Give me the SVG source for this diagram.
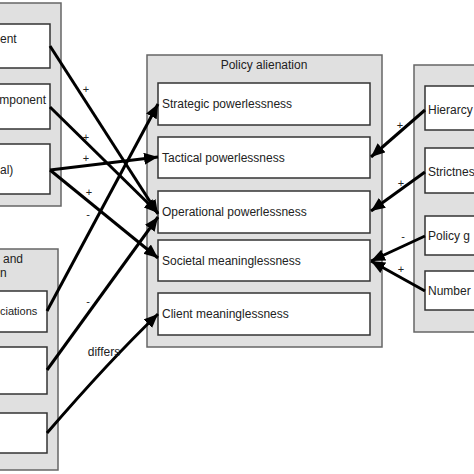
<svg xmlns="http://www.w3.org/2000/svg" width="474" height="474" viewBox="0 0 474 474">
<style>
.grp{fill:#e0e0e0;stroke:#666;stroke-width:1.5}
.box{fill:#fff;stroke:#333;stroke-width:1.5}
text{font-family:"Liberation Sans",Arial,sans-serif;font-size:12px;fill:#222}
.lbl{font-size:11px}
.c{fill:none;stroke:#000;stroke-width:3;marker-end:url(#ah)}
</style>
<defs>
<marker id="ah" markerUnits="userSpaceOnUse" markerWidth="16" markerHeight="14" refX="14" refY="6" orient="auto">
<path d="M0,0 L14,6 L0,12 Z" fill="#000"/>
</marker>
</defs>
<rect width="474" height="474" fill="#fff"/>
<g id="leftTop">
<rect class="grp" x="-5" y="3" width="66" height="203"/>
<g id="lt1"><rect class="box" x="-5" y="24" width="55" height="44"/><text x="0" y="43">ent</text></g>
<g id="lt2"><rect class="box" x="-5" y="84" width="55" height="45"/><text x="46" y="104" text-anchor="end">mponent</text></g>
<g id="lt3"><rect class="box" x="-5" y="144" width="55" height="50"/><text x="0" y="174">al)</text></g>
</g>
<g id="leftBottom">
<rect class="grp" x="-5" y="249" width="63" height="221"/>
<text x="23" y="263" text-anchor="end">and</text>
<text x="0" y="277">n</text>
<g id="lb1"><rect class="box" x="-5" y="291" width="52" height="41"/><text x="0" y="315" style="font-size:11px">ciations</text></g>
<g id="lb2"><rect class="box" x="-5" y="347" width="52" height="47"/></g>
<g id="lb3"><rect class="box" x="-5" y="413" width="52" height="40"/></g>
</g>
<g id="policyAlienation">
<rect class="grp" x="147" y="55" width="235" height="292"/>
<text x="264" y="69" text-anchor="middle">Policy alienation</text>
<g id="strategic"><rect class="box" x="158" y="83" width="212" height="42"/><text x="162" y="108">Strategic powerlessness</text></g>
<g id="tactical"><rect class="box" x="158" y="137" width="212" height="41"/><text x="162" y="162">Tactical powerlessness</text></g>
<g id="operational"><rect class="box" x="158" y="191" width="212" height="42"/><text x="162" y="216">Operational powerlessness</text></g>
<g id="societal"><rect class="box" x="158" y="240" width="212" height="41"/><text x="162" y="265">Societal meaninglessness</text></g>
<g id="client"><rect class="box" x="158" y="293" width="212" height="42"/><text x="162" y="318">Client meaninglessness</text></g>
</g>
<g id="right">
<rect class="grp" x="414" y="65" width="70" height="267"/>
<g id="r1"><rect class="box" x="425" y="86" width="60" height="44"/><text x="428" y="114">Hierarcy</text></g>
<g id="r2"><rect class="box" x="425" y="148" width="60" height="45"/><text x="428" y="176">Strictnes</text></g>
<g id="r3"><rect class="box" x="425" y="216" width="60" height="39"/><text x="428" y="240">Policy g</text></g>
<g id="r4"><rect class="box" x="425" y="271" width="60" height="39"/><text x="428" y="295">Number</text></g>
</g>
<g id="connectors">
<path class="c" d="M50,46 L158,214"/>
<path class="c" d="M50,107 L158,213"/>
<path class="c" d="M50,170 L158,157"/>
<path class="c" d="M50,170 L158,258"/>
<path class="c" d="M47,311 L158,104"/>
<path class="c" d="M47,370 L158,217"/>
<path class="c" d="M47,433 Q110,360 158,314"/>
<path class="c" d="M425,110 L371,157"/>
<path class="c" d="M425,172 L371,211"/>
<path class="c" d="M425,236 L371,261"/>
<path class="c" d="M425,291 L371,261"/>
<text class="lbl" x="86" y="93" text-anchor="middle">+</text>
<text class="lbl" x="86" y="141" text-anchor="middle">+</text>
<text class="lbl" x="86" y="162" text-anchor="middle">+</text>
<text class="lbl" x="89" y="196" text-anchor="middle">+</text>
<text class="lbl" x="88" y="218" text-anchor="middle">-</text>
<text class="lbl" x="88" y="305" text-anchor="middle">-</text>
<text x="104" y="356" text-anchor="middle">differs</text>
<text class="lbl" x="400" y="129" text-anchor="middle">+</text>
<text class="lbl" x="401" y="187" text-anchor="middle">+</text>
<text class="lbl" x="403" y="240" text-anchor="middle">-</text>
<text class="lbl" x="401" y="273" text-anchor="middle">+</text>
</g>
</svg>
